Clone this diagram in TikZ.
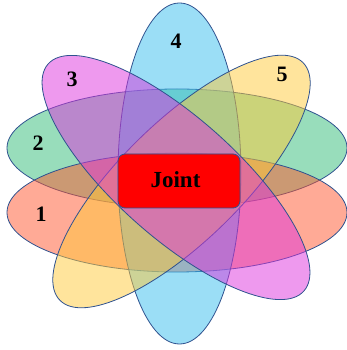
\documentclass[tikz,border=0pt]{standalone}
\usepackage{xcolor}
\usepackage{fontspec}
\setmainfont{Liberation Serif}
\usepackage{tikz}
\usetikzlibrary{positioning}

\definecolor{rimblue}{RGB}{47,82,143}
\definecolor{setone}{RGB}{255,85,45}
\definecolor{settwo}{RGB}{49,187,119}
\definecolor{setthree}{RGB}{221,51,221}
\definecolor{setfour}{RGB}{55,189,237}
\definecolor{setfive}{RGB}{255,201,57}

\begin{document}
\begin{tikzpicture}[
    x=1pt, y=1pt,
    venn/.style={draw=rimblue, line width=0.8pt, fill opacity=0.5},
    tag/.style={font=\fontsize{22}{25}\selectfont\bfseries, text=black},
    joint/.style={rectangle, draw=rimblue, line width=0.8pt, fill=red, rounded corners=7pt, minimum width=122pt, minimum height=54pt}
]
    \useasboundingbox (0,0) rectangle (347,350);

    \filldraw[venn, fill=settwo] (177,202) ellipse [x radius=170, y radius=59];
    \filldraw[venn, fill=setone] (177,137.5) ellipse [x radius=170, y radius=59.5];
    \filldraw[venn, fill=setfour] (179.5,176.5) ellipse [x radius=61.5, y radius=170.5];
    \filldraw[venn, fill=setfive, rotate around={44.3:(181.5,168.5)}] (181.5,168.5) ellipse [x radius=170, y radius=60];
    \filldraw[venn, fill=setthree, rotate around={-41.6:(176,172.5)}] (176,172.5) ellipse [x radius=171, y radius=60];

    \node[joint] (joint) at (179,169) {};
    \node[tag, font=\fontsize{23}{26}\selectfont\bfseries] (jointtext) at (175.5,170) {Joint};

    \node[tag] (lblone) at (41,136) {1};
    \node[tag] (lbltwo) at (38,207) {2};
    \node[tag] (lblthree) at (72,271) {3};
    \node[tag] (lblfour) at (176,309) {4};
    \node[tag] (lblfive) at (282,276) {5};
\end{tikzpicture}
\end{document}
